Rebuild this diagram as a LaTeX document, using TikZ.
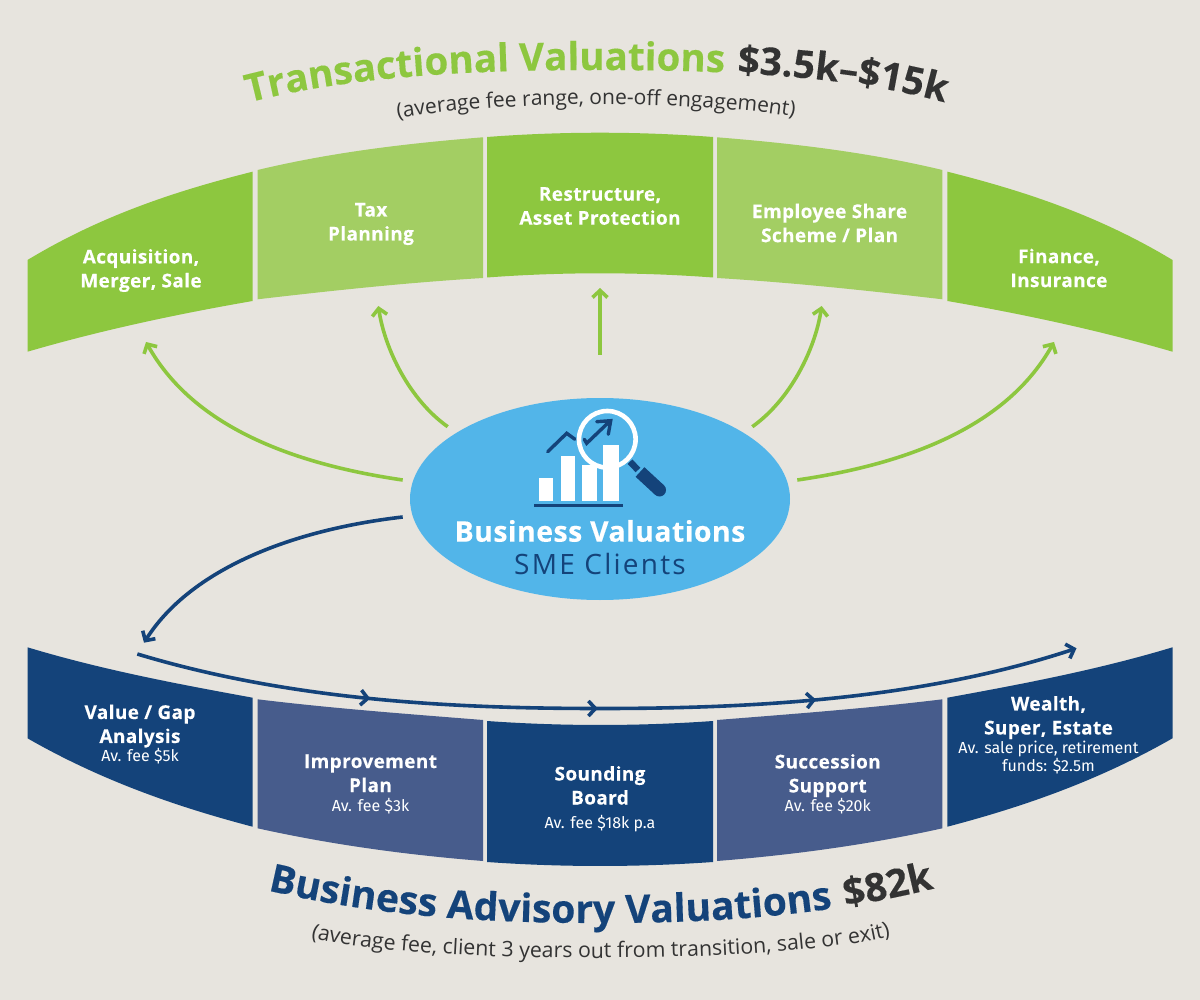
\documentclass[tikz,border=0pt]{standalone}
\usepackage{fontspec}
\setmainfont{Open Sans}
\newfontfamily\subfont{Fira Sans}
\usetikzlibrary{arrows.meta,decorations.text,decorations.markings,shapes.geometric}
\definecolor{bg}{HTML}{E7E4DE}
\definecolor{tgreen}{HTML}{8DC73F}
\definecolor{lgreen}{HTML}{A3CE63}
\definecolor{navy}{HTML}{14437A}
\definecolor{slate}{HTML}{475C8C}
\definecolor{sky}{HTML}{52B5E9}
\definecolor{ink}{HTML}{333333}
\newcommand{\heavyfont}{\bfseries\addfontfeature{FakeBold=0.3}}
\newcommand{\labelfont}{\fontsize{19}{24}\selectfont\bfseries\addfontfeature{LetterSpace=2,FakeBold=0.2}}
\tikzset{
  x=1pt,y=-1pt,
  seglabel/.style={text=white,align=center,font=\labelfont,inner sep=0pt},
  feelabel/.style={text=white,align=center,font=\labelfont,inner sep=0pt},
  barb/.tip={Straight Barb[length=7pt,width=15pt,line width=3.6pt]},
  linkgreen/.style={draw=tgreen,line width=3.6pt,-barb},
  linknavy/.style={draw=navy,line width=3.6pt,-barb},
  iconline/.style={draw=navy,line width=3.4pt,line cap=round,line join=miter},
}
\newcommand{\fee}[1]{{\subfont\mdseries\fontsize{16}{18}\selectfont #1}}
\begin{document}
\begin{tikzpicture}
\useasboundingbox (0,0) rectangle (1200,1000);
\fill[bg] (0,0) rectangle (1200,1000);

% top band
\fill[tgreen] (27.5,260) .. controls (102,215) and (177.6,190.5) .. (252.6,171.7) -- (252.6,301) .. controls (177.6,314) and (102,330) .. (27.5,351.7) -- cycle;
\fill[lgreen] (257.6,170) .. controls (333,152) and (408,143.3) .. (483,137.3) -- (483,278) .. controls (408,282.5) and (333,290.5) .. (257.6,299.3) -- cycle;
\fill[tgreen] (487,137) .. controls (562,131.3) and (638,131.3) .. (713,137) -- (713,277.5) .. controls (638,271.9) and (562,271.9) .. (487,277.5) -- cycle;
\fill[lgreen] (942.4,170) .. controls (867,152) and (792,143.3) .. (717,137.3) -- (717,278) .. controls (792,282.5) and (867,290.5) .. (942.4,299.3) -- cycle;
\fill[tgreen] (1172.5,260) .. controls (1098,215) and (1022.4,190.5) .. (947.4,171.7) -- (947.4,301) .. controls (1022.4,314) and (1098,330) .. (1172.5,351.7) -- cycle;

% bottom band
\fill[navy] (27.5,647.3) .. controls (102,669.8) and (177.6,684) .. (252.6,697.7) -- (252.6,826.7) .. controls (177.6,807) and (102,781) .. (27.5,738.3) -- cycle;
\fill[slate] (257.6,699.3) .. controls (333,708.5) and (408,714) .. (483,720) -- (483,861) .. controls (408,855) and (333,845) .. (257.6,828.3) -- cycle;
\fill[navy] (487,721) .. controls (562,726.3) and (638,726.3) .. (713,721) -- (713,862) .. controls (638,867.3) and (562,867.3) .. (487,862) -- cycle;
\fill[slate] (942.4,699.3) .. controls (867,708.5) and (792,714) .. (717,720) -- (717,861) .. controls (792,855) and (867,845) .. (942.4,828.3) -- cycle;
\fill[navy] (1172.5,647.3) .. controls (1098,669.8) and (1022.4,684) .. (947.4,697.7) -- (947.4,826.7) .. controls (1022.4,807) and (1098,781) .. (1172.5,738.3) -- cycle;

% labels
\node[seglabel] (acq) at (141,270.5) {Acquisition,\\Merger, Sale};
\node[seglabel] (tax) at (371,224) {Tax\\Planning};
\node[seglabel] (res) at (600,206) {Restructure,\\Asset Protection};
\node[seglabel] (emp) at (829.6,223) {Employee Share\\Scheme / Plan};
\node[seglabel] (fin) at (1059,268) {Finance,\\Insurance};
\node[feelabel] (val) at (140,734.5) {Value / Gap\\Analysis\\[-5pt]\fee{Av. fee \$5k}};
\node[feelabel] (imp) at (370.5,784) {Improvement\\Plan\\[-5pt]\fee{Av. fee \$3k}};
\node[feelabel] (sou) at (600,799) {Sounding\\Board\\[0pt]\fee{Av. fee \$18k p.a}};
\node[feelabel] (suc) at (827.7,784) {Succession\\Support\\[-5pt]\fee{Av. fee \$20k}};
\node[feelabel] (wea) at (1048.5,735) {Wealth,\\Super, Estate\\[-5pt]\fee{Av. sale price, retirement}\\[-6pt]\fee{funds: \$2.5m}};

% hub
\node[ellipse,fill=sky,minimum width=380pt,minimum height=202pt,inner sep=0pt] (hub) at (600,499) {};
\node[text=white,inner sep=0pt,font=\fontsize{28.5}{32}\selectfont\bfseries\addfontfeature{LetterSpace=1.5,FakeBold=0.2}] (hubt) at (600,531) {Business Valuations};
\node[text=navy,inner sep=0pt,font=\fontsize{28}{32}\selectfont\addfontfeature{LetterSpace=8}] (hubs) at (600,564) {SME Clients};

% icon
\fill[white] (539,477.7) rectangle (553.3,500.7);
\fill[white] (560.7,455.7) rectangle (575,500.7);
\fill[white] (582.3,465) rectangle (596.7,500.7);
\fill[white] (603.3,445) rectangle (619,500.7);
\draw[navy,line width=3.5pt] (534.3,505.7) -- (623.3,505.7);
\draw[iconline] (547.7,451.7) -- (566.7,433.3) -- (575,439.3);
\draw[white,line width=4.6pt] (607.3,439.3) circle (28.3);
\draw[iconline] (584.3,439.3) -- (586.7,443.3) -- (610,421);
\draw[iconline] (596.7,421.7) -- (610.7,420.7) -- (608.3,434.3);
\draw[navy,line width=6.5pt] (630,461.7) -- (638,470);
\draw[navy,line width=13pt] (640,472) -- (659.5,490);
\fill[navy] (659.5,490) circle (6.5);

% connector ends
\coordinate (s1) at (402.7,480); \coordinate (e1) at (146,342);
\coordinate (s2) at (447.7,426.7); \coordinate (e2) at (378.3,306);
\coordinate (s3) at (600,355); \coordinate (e3) at (600,288);
\coordinate (s4) at (752.3,426.7); \coordinate (e4) at (821.7,306);
\coordinate (s5) at (797.3,480); \coordinate (e5) at (1054,342);
\coordinate (s6) at (402.7,517); \coordinate (e6) at (144,642.7);
\coordinate (f0) at (137.3,654); \coordinate (fm) at (600,708.5); \coordinate (f1) at (1076.5,648.3);

\draw[linkgreen] (s1) .. controls (300,465) and (195,430) .. (e1);
\draw[linkgreen] (s2) .. controls (410,400) and (385,350) .. (e2);
\draw[linkgreen] (s3) -- (e3);
\draw[linkgreen] (s4) .. controls (790,400) and (815,350) .. (e4);
\draw[linkgreen] (s5) .. controls (900,465) and (1005,430) .. (e5);
\draw[linknavy] (s6) .. controls (290,530) and (190,570) .. (e6);
\draw[linknavy,
  decoration={markings,
    mark=at position 0.25 with {\arrow{barb}},
    mark=at position 0.49 with {\arrow{barb}},
    mark=at position 0.72 with {\arrow{barb}}},
  postaction={decorate}]
  (f0) .. controls (290,700) and (450,708.5) .. (fm) .. controls (750,708.5) and (920,700) .. (f1);

% titles
\path[decorate,decoration={text along path,text align=center,
  text={|\fontsize{38.5}{40}\selectfont\heavyfont\color{tgreen}|Transactional Valuations || |\fontsize{38.5}{40}\selectfont\heavyfont\color{ink}|{\$}3.5k–{\$}15k||}}]
  (243,104) .. controls (350,75) and (480,70) .. (600,70) .. controls (720,70) and (850,75) .. (950,104);
\path[decorate,decoration={text along path,text align=center,
  text={|\fontsize{21}{21}\selectfont\color{ink}|(average fee range, one-off engagement{)}||}}]
  (397,119) .. controls (500,100) and (690,100) .. (795,117);
\path[decorate,decoration={text along path,text align=center,
  text={|\fontsize{39}{40}\selectfont\heavyfont\color{navy}|Business Advisory Valuations || |\fontsize{39}{40}\selectfont\heavyfont\color{ink}|{\$}82k||}}]
  (266,890) .. controls (380,917) and (490,923) .. (600,923) .. controls (710,923) and (820,917) .. (936,888);
\path[decorate,decoration={text along path,text align=center,
  text={|\fontsize{21.3}{21}\selectfont\color{ink}|(average fee, client 3 years out from transition, sale or exit{)}||}}]
  (311,938) .. controls (420,965) and (780,965) .. (890,936);
\end{tikzpicture}
\end{document}
